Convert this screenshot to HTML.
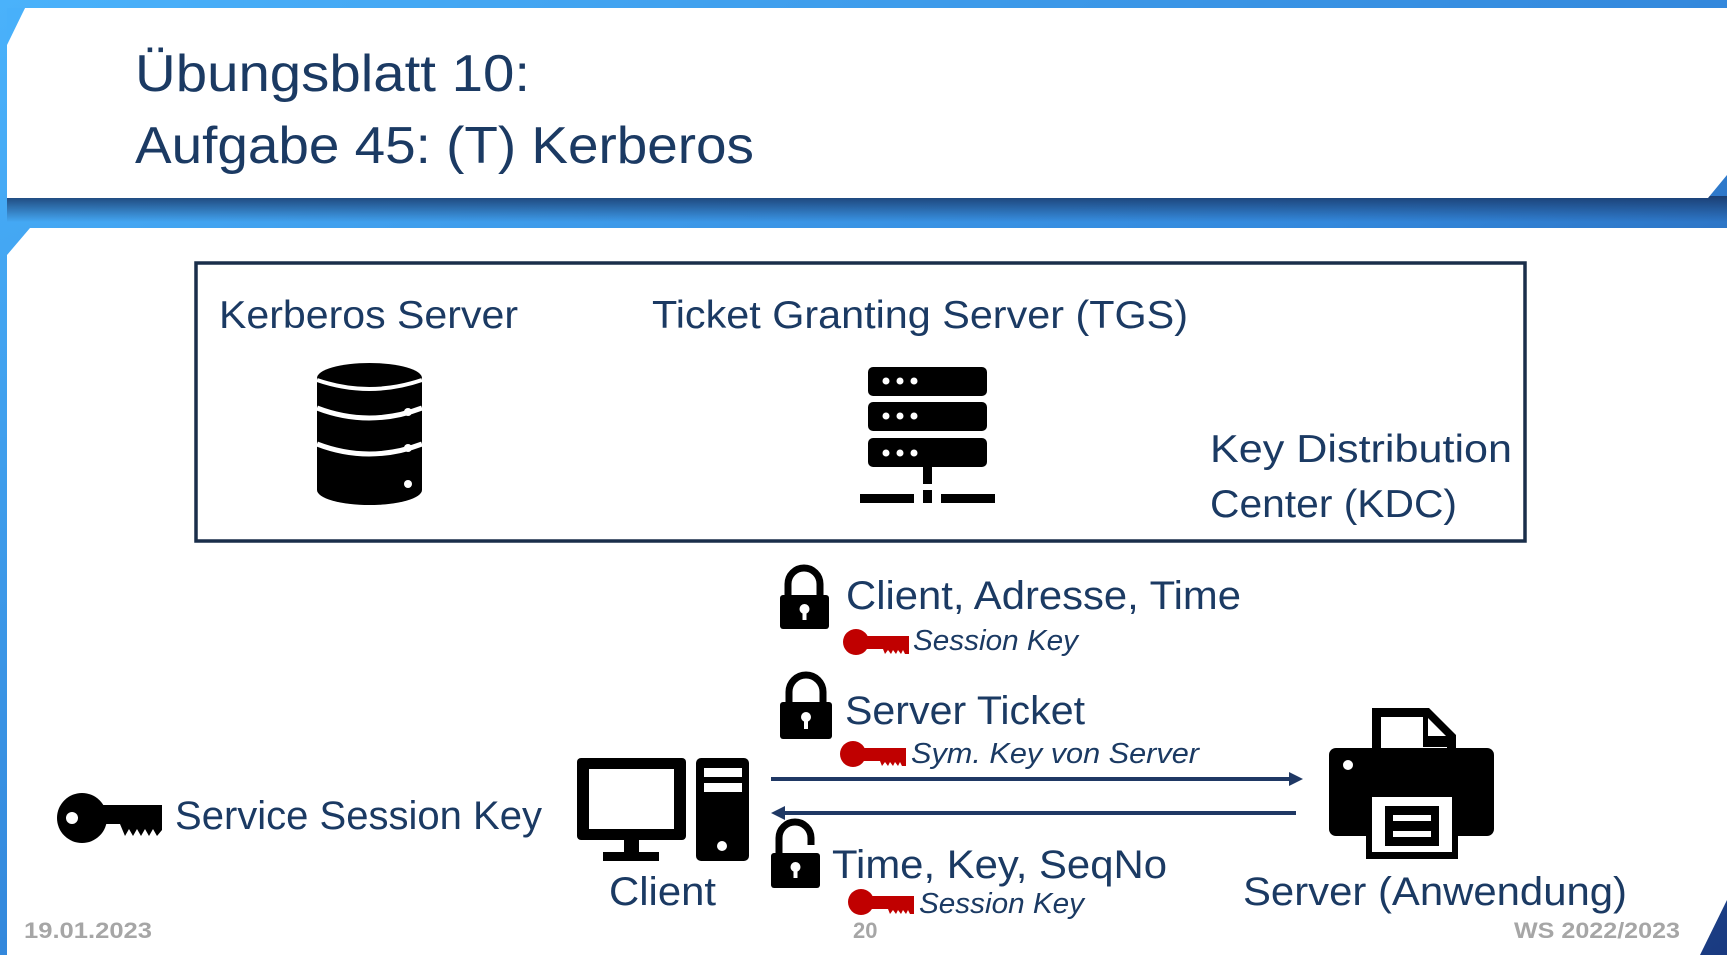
<!DOCTYPE html>
<html><head><meta charset="utf-8"><style>
html,body{margin:0;padding:0;width:1727px;height:955px;overflow:hidden;}
body{background:#3a9ae8;}
svg{position:absolute;left:0;top:0;}
text{font-family:"Liberation Sans",sans-serif;fill:#1b3a63;}
</style></head><body>
<svg width="1727" height="955" viewBox="0 0 1727 955">
<defs>
<linearGradient id="bg" x1="0" y1="0" x2="1" y2="1">
<stop offset="0" stop-color="#4ab2fb"/><stop offset="0.5" stop-color="#3388dc"/><stop offset="1" stop-color="#1a3a80"/>
</linearGradient>
<linearGradient id="sh" x1="0" y1="0" x2="0" y2="1">
<stop offset="0" stop-color="#173463" stop-opacity="0.85"/><stop offset="1" stop-color="#173463" stop-opacity="0"/>
</linearGradient>
<g id="key"><circle cx="13" cy="13" r="13"/><rect x="20" y="7" width="46" height="13"/><polygon points="40,20 66,20 66,25 62,25 60,21 58,25 55,21 53,25 50,21 48,25 45,21 42,25"/></g>
</defs>
<rect width="1727" height="955" fill="url(#bg)"/>
<!-- title panel shadow -->
<rect x="7" y="196" width="1720" height="26" fill="url(#sh)"/>
<polygon points="7,8 1727,8 1727,175 1708,198 7,198 7,40 25,8" fill="#fff"/>
<polygon points="7,8 25,8 7,45" fill="#48b0fa"/>
<!-- content panel -->
<polygon points="30,228 1727,228 1727,900 1700,955 7,955 7,255" fill="#fff"/>
<text x="135" y="91" font-size="52" textLength="395" lengthAdjust="spacingAndGlyphs">Übungsblatt 10:</text>
<text x="135" y="163" font-size="52" textLength="619" lengthAdjust="spacingAndGlyphs">Aufgabe 45: (T) Kerberos</text>
<!-- KDC box -->
<rect x="196" y="263" width="1329" height="278" fill="none" stroke="#1a2e4a" stroke-width="3.5"/>
<text x="219" y="328" font-size="39" textLength="299" lengthAdjust="spacingAndGlyphs">Kerberos Server</text>
<text x="652" y="328" font-size="39" textLength="536" lengthAdjust="spacingAndGlyphs">Ticket Granting Server (TGS)</text>
<text x="1210" y="462" font-size="39" textLength="302" lengthAdjust="spacingAndGlyphs">Key Distribution</text>
<text x="1210" y="517" font-size="39" textLength="247" lengthAdjust="spacingAndGlyphs">Center (KDC)</text>
<!-- database -->
<g>
<rect x="317" y="378" width="105" height="112" fill="#000"/>
<ellipse cx="369.5" cy="378" rx="52.5" ry="15" fill="#000"/>
<ellipse cx="369.5" cy="490" rx="52.5" ry="15" fill="#000"/>
<path d="M317,408 Q369,428 422,408" stroke="#fff" stroke-width="5" fill="none"/>
<path d="M317,444 Q369,464 422,444" stroke="#fff" stroke-width="5" fill="none"/>
<path d="M317,380 Q369,398 422,380" stroke="#fff" stroke-width="4" fill="none"/>
<circle cx="408" cy="412" r="4" fill="#fff"/><circle cx="408" cy="448" r="4" fill="#fff"/><circle cx="408" cy="484" r="4" fill="#fff"/>
</g>
<!-- server -->
<g>
<rect x="868" y="367" width="119" height="29" rx="5" fill="#000"/>
<rect x="868" y="402" width="119" height="29" rx="5" fill="#000"/>
<rect x="868" y="438" width="119" height="29" rx="5" fill="#000"/>
<g fill="#fff"><circle cx="886" cy="381" r="3.5"/><circle cx="900" cy="381" r="3.5"/><circle cx="914" cy="381" r="3.5"/>
<circle cx="886" cy="416" r="3.5"/><circle cx="900" cy="416" r="3.5"/><circle cx="914" cy="416" r="3.5"/>
<circle cx="886" cy="453" r="3.5"/><circle cx="900" cy="453" r="3.5"/><circle cx="914" cy="453" r="3.5"/></g>
<rect x="923" y="467" width="9" height="17" fill="#000"/>
<rect x="860" y="494" width="54" height="9" fill="#000"/>
<rect x="941" y="494" width="54" height="9" fill="#000"/>
<rect x="923" y="490" width="9" height="13" fill="#000"/>
</g>
<!-- lock 1 -->
<g>
<path d="M788,598 V584 A16,16 0 0 1 820,584 V598" stroke="#000" stroke-width="7" fill="none"/>
<rect x="780" y="595" width="49" height="34" rx="3" fill="#000"/>
<circle cx="804.5" cy="609" r="5" fill="#fff"/><rect x="802.5" y="610" width="4" height="10" fill="#fff"/>
</g>
<text x="846" y="609" font-size="40" textLength="395" lengthAdjust="spacingAndGlyphs">Client, Adresse, Time</text>
<use href="#key" x="843" y="629" fill="#c00000"/>
<text x="913" y="650" font-size="29" font-style="italic" textLength="165" lengthAdjust="spacingAndGlyphs">Session Key</text>
<!-- lock 2 -->
<g>
<path d="M789,705 V692 A17,17 0 0 1 823,692 V705" stroke="#000" stroke-width="7" fill="none"/>
<rect x="780" y="702" width="52" height="37" rx="3" fill="#000"/>
<circle cx="806" cy="717" r="5" fill="#fff"/><rect x="804" y="718" width="4" height="11" fill="#fff"/>
</g>
<text x="845" y="724" font-size="40" textLength="240" lengthAdjust="spacingAndGlyphs">Server Ticket</text>
<use href="#key" x="840" y="741" fill="#c00000"/>
<text x="911" y="763" font-size="29" font-style="italic" textLength="288" lengthAdjust="spacingAndGlyphs">Sym. Key von Server</text>
<!-- arrows -->
<line x1="771" y1="779" x2="1292" y2="779" stroke="#1f3864" stroke-width="4"/>
<polygon points="1303,779 1289,772 1289,786" fill="#1f3864"/>
<line x1="782" y1="813" x2="1296" y2="813" stroke="#1f3864" stroke-width="4"/>
<polygon points="771,813 785,806 785,820" fill="#1f3864"/>
<!-- lock 3 open -->
<g>
<path d="M779,855 V838 A16,16 0 0 1 811,838 V845" stroke="#000" stroke-width="7" fill="none"/>
<rect x="771" y="853" width="49" height="35" rx="3" fill="#000"/>
<circle cx="795.5" cy="867" r="5" fill="#fff"/><rect x="793.5" y="868" width="4" height="10" fill="#fff"/>
</g>
<text x="832" y="878" font-size="40" textLength="335" lengthAdjust="spacingAndGlyphs">Time, Key, SeqNo</text>
<use href="#key" x="848" y="889" fill="#c00000"/>
<text x="919" y="913" font-size="29" font-style="italic" textLength="165" lengthAdjust="spacingAndGlyphs">Session Key</text>
<!-- computer -->
<g>
<rect x="577" y="758" width="109" height="82" rx="4" fill="#000"/>
<rect x="589" y="769" width="85" height="60" fill="#fff"/>
<rect x="624" y="840" width="15" height="14" fill="#000"/>
<rect x="603" y="852" width="56" height="9" fill="#000"/>
<rect x="696" y="758" width="53" height="103" rx="5" fill="#000"/>
<rect x="704" y="768" width="38" height="9" fill="#fff"/>
<rect x="704" y="783" width="38" height="9" fill="#fff"/>
<circle cx="722" cy="846" r="5" fill="#fff"/>
</g>
<text x="609" y="905" font-size="40" textLength="107" lengthAdjust="spacingAndGlyphs">Client</text>
<!-- black key -->
<g fill="#000">
<circle cx="82" cy="818" r="25"/>
<circle cx="72" cy="818" r="6" fill="#fff"/>
<rect x="100" y="805" width="62" height="19"/>
<polygon points="120,824 162,824 162,830 157,836 153,829 149,836 145,829 141,836 137,829 133,836 129,829 125,836"/>
</g>
<text x="175" y="829" font-size="40" textLength="367" lengthAdjust="spacingAndGlyphs">Service Session Key</text>
<!-- printer -->
<g>
<polygon points="1372,708 1429,708 1456,735 1456,760 1372,760" fill="#000"/>
<polygon points="1381,717 1423,717 1423,747 1447,747 1447,760 1381,760" fill="#fff"/>
<polygon points="1428,718 1446,736 1428,736" fill="#fff"/>
<rect x="1329" y="748" width="165" height="88" rx="7" fill="#000"/>
<circle cx="1348" cy="765" r="5" fill="#fff"/>
<rect x="1366" y="790" width="92" height="69" fill="#000"/>
<rect x="1372" y="797" width="80" height="55" fill="#fff"/>
<rect x="1385" y="806" width="54" height="40" fill="#000"/>
<rect x="1393" y="815" width="38" height="6" fill="#fff"/>
<rect x="1393" y="831" width="38" height="6" fill="#fff"/>
</g>
<text x="1243" y="905" font-size="40" textLength="384" lengthAdjust="spacingAndGlyphs">Server (Anwendung)</text>
<!-- footer -->
<text x="24" y="938" font-size="22" font-weight="bold" style="fill:#a6a6a6" textLength="128" lengthAdjust="spacingAndGlyphs">19.01.2023</text>
<text x="853" y="938" font-size="22" font-weight="bold" style="fill:#a6a6a6">20</text>
<text x="1514" y="938" font-size="22" font-weight="bold" style="fill:#a6a6a6" textLength="166" lengthAdjust="spacingAndGlyphs">WS 2022/2023</text>
</svg>
</body></html>
